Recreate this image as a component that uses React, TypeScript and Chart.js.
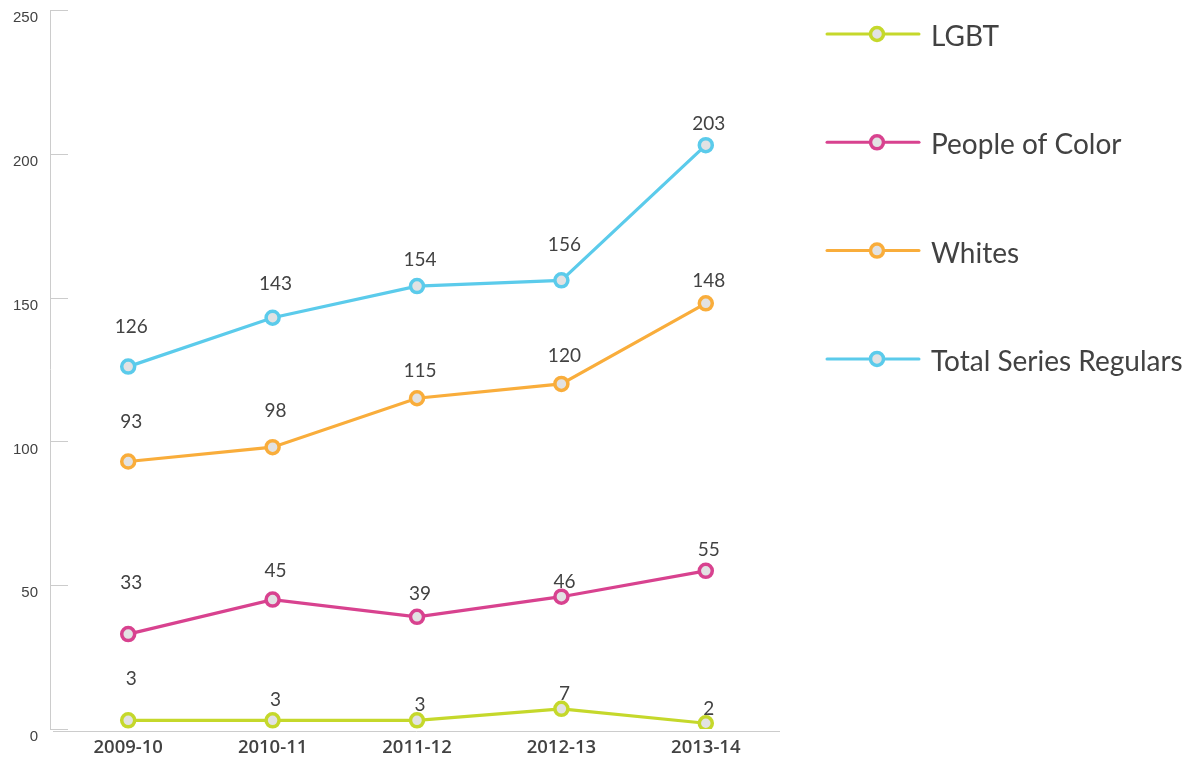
import React, { useEffect, useRef } from "react";
import { Chart, registerables } from "chart.js";

Chart.register(...registerables);

const categories = ["2009-10", "2010-11", "2011-12", "2012-13", "2013-14"];
const seriesNames = ["LGBT", "People of Color", "Whites", "Total Series Regulars"];
const lgbt = [3, 3, 3, 7, 2];
const peopleOfColor = [33, 45, 39, 46, 55];
const whites = [93, 98, 115, 120, 148];
const totalRegulars = [126, 143, 154, 156, 203];
const yTicks = [0, 50, 100, 150, 200, 250];

// label lift above each point (style only)
const lgbtLift = [41, 20, 15, 15, 14];
const pocLift = [51, 29, 23, 15, 21];
const whitesLift = [40, 36, 27, 28, 22];
const totalLift = [40, 34, 26, 35, 21];

const colors = ["#c5d82b", "#d8428f", "#f9ad3b", "#5bcbeb"];
const pointFill = "#e2e2e3";
const textColor = "#424242";
const axisColor = "#cccccc";
const FONT = "Lato, 'Open Sans', sans-serif";

export default function App() {
  const ref = useRef<HTMLCanvasElement | null>(null);

  useEffect(() => {
    if (!ref.current) return;
    const series = [lgbt, peopleOfColor, whites, totalRegulars];
    const lifts = [lgbtLift, pocLift, whitesLift, totalLift];

    const decor = {
      id: "decor",
      beforeDatasetsDraw(chart: any) {
        const ctx = chart.ctx;
        const y = chart.scales.y;
        const area = chart.chartArea;
        ctx.save();
        ctx.strokeStyle = axisColor;
        ctx.lineWidth = 1;
        ctx.beginPath();
        ctx.moveTo(50.5, y.getPixelForValue(250));
        ctx.lineTo(50.5, y.getPixelForValue(0));
        ctx.stroke();
        yTicks.forEach((v) => {
          const py = Math.round(y.getPixelForValue(v)) + 0.5;
          ctx.beginPath();
          ctx.moveTo(50, py);
          ctx.lineTo(68, py);
          ctx.stroke();
        });
        const by = Math.round(area.bottom) + 2.5;
        ctx.beginPath();
        ctx.moveTo(53, by);
        ctx.lineTo(area.right + 2, by);
        ctx.stroke();
        ctx.restore();
      },
      afterDatasetsDraw(chart: any) {
        const ctx = chart.ctx;
        ctx.save();
        ctx.font = `19px ${FONT}`;
        ctx.fillStyle = textColor;
        ctx.textAlign = "center";
        ctx.textBaseline = "middle";
        chart.data.datasets.forEach((ds: any, di: number) => {
          const meta = chart.getDatasetMeta(di);
          meta.data.forEach((pt: any, i: number) => {
            ctx.fillText(String(ds.data[i]), pt.x + 3, pt.y - lifts[di][i]);
          });
        });
        // legend
        const lx = 827;
        const ly0 = 34;
        const step = 108.3;
        seriesNames.forEach((name, i) => {
          const ly = ly0 + i * step;
          ctx.strokeStyle = colors[i];
          ctx.lineWidth = 3;
          ctx.lineCap = "round";
          ctx.beginPath();
          ctx.moveTo(lx, ly);
          ctx.lineTo(lx + 92, ly);
          ctx.stroke();
          ctx.beginPath();
          ctx.arc(lx + 50, ly, 6.5, 0, Math.PI * 2);
          ctx.fillStyle = pointFill;
          ctx.fill();
          ctx.lineWidth = 3.5;
          ctx.stroke();
          ctx.fillStyle = textColor;
          ctx.font = `28px ${FONT}`;
          ctx.textAlign = "left";
          ctx.textBaseline = "middle";
          ctx.fillText(name, lx + 104, ly + 3);
        });
        ctx.restore();
      },
    };

    const chart = new Chart(ref.current, {
      type: "line",
      data: {
        labels: categories,
        datasets: series.map((data, i) => ({
          label: seriesNames[i],
          data,
          borderColor: colors[i],
          backgroundColor: pointFill,
          pointBackgroundColor: pointFill,
          pointBorderColor: colors[i],
          pointBorderWidth: 3.5,
          pointRadius: 6.5,
          borderWidth: 3.2,
          tension: 0,
          fill: false,
        })),
      },
      options: {
        responsive: false,
        animation: false,
        layout: { padding: { left: 0, right: 426, top: 10, bottom: 0 } },
        plugins: { legend: { display: false }, tooltip: { enabled: false } },
        scales: {
          x: {
            offset: true,
            grid: { display: false, drawTicks: false },
            border: { display: false },
            ticks: {
              padding: 8,
              color: textColor,
              font: { family: "'Open Sans', Lato, sans-serif", size: 18.5, weight: "600" as any },
            },
            afterFit(scale: any) {
              scale.height = 30;
              scale.paddingLeft = 0;
              scale.paddingRight = 0;
            },
          },
          y: {
            min: 0,
            max: 250,
            grid: { display: false, drawTicks: false },
            border: { display: false },
            ticks: {
              stepSize: 50,
              padding: 18,
              labelOffset: 8,
              color: textColor,
              font: { family: "'Liberation Sans', Arial, sans-serif", size: 15 },
            },
            afterFit(scale: any) {
              scale.width = 56;
              scale.paddingTop = 0;
              scale.paddingBottom = 0;
            },
          },
        },
      },
      plugins: [decor],
    });
    return () => chart.destroy();
  }, []);

  return (
    <div style={{ position: "fixed", left: 0, top: 0, width: 1204, height: 759, background: "#fff" }}>
      <canvas ref={ref} width={1204} height={759} style={{ width: 1204, height: 759 }} />
    </div>
  );
}
